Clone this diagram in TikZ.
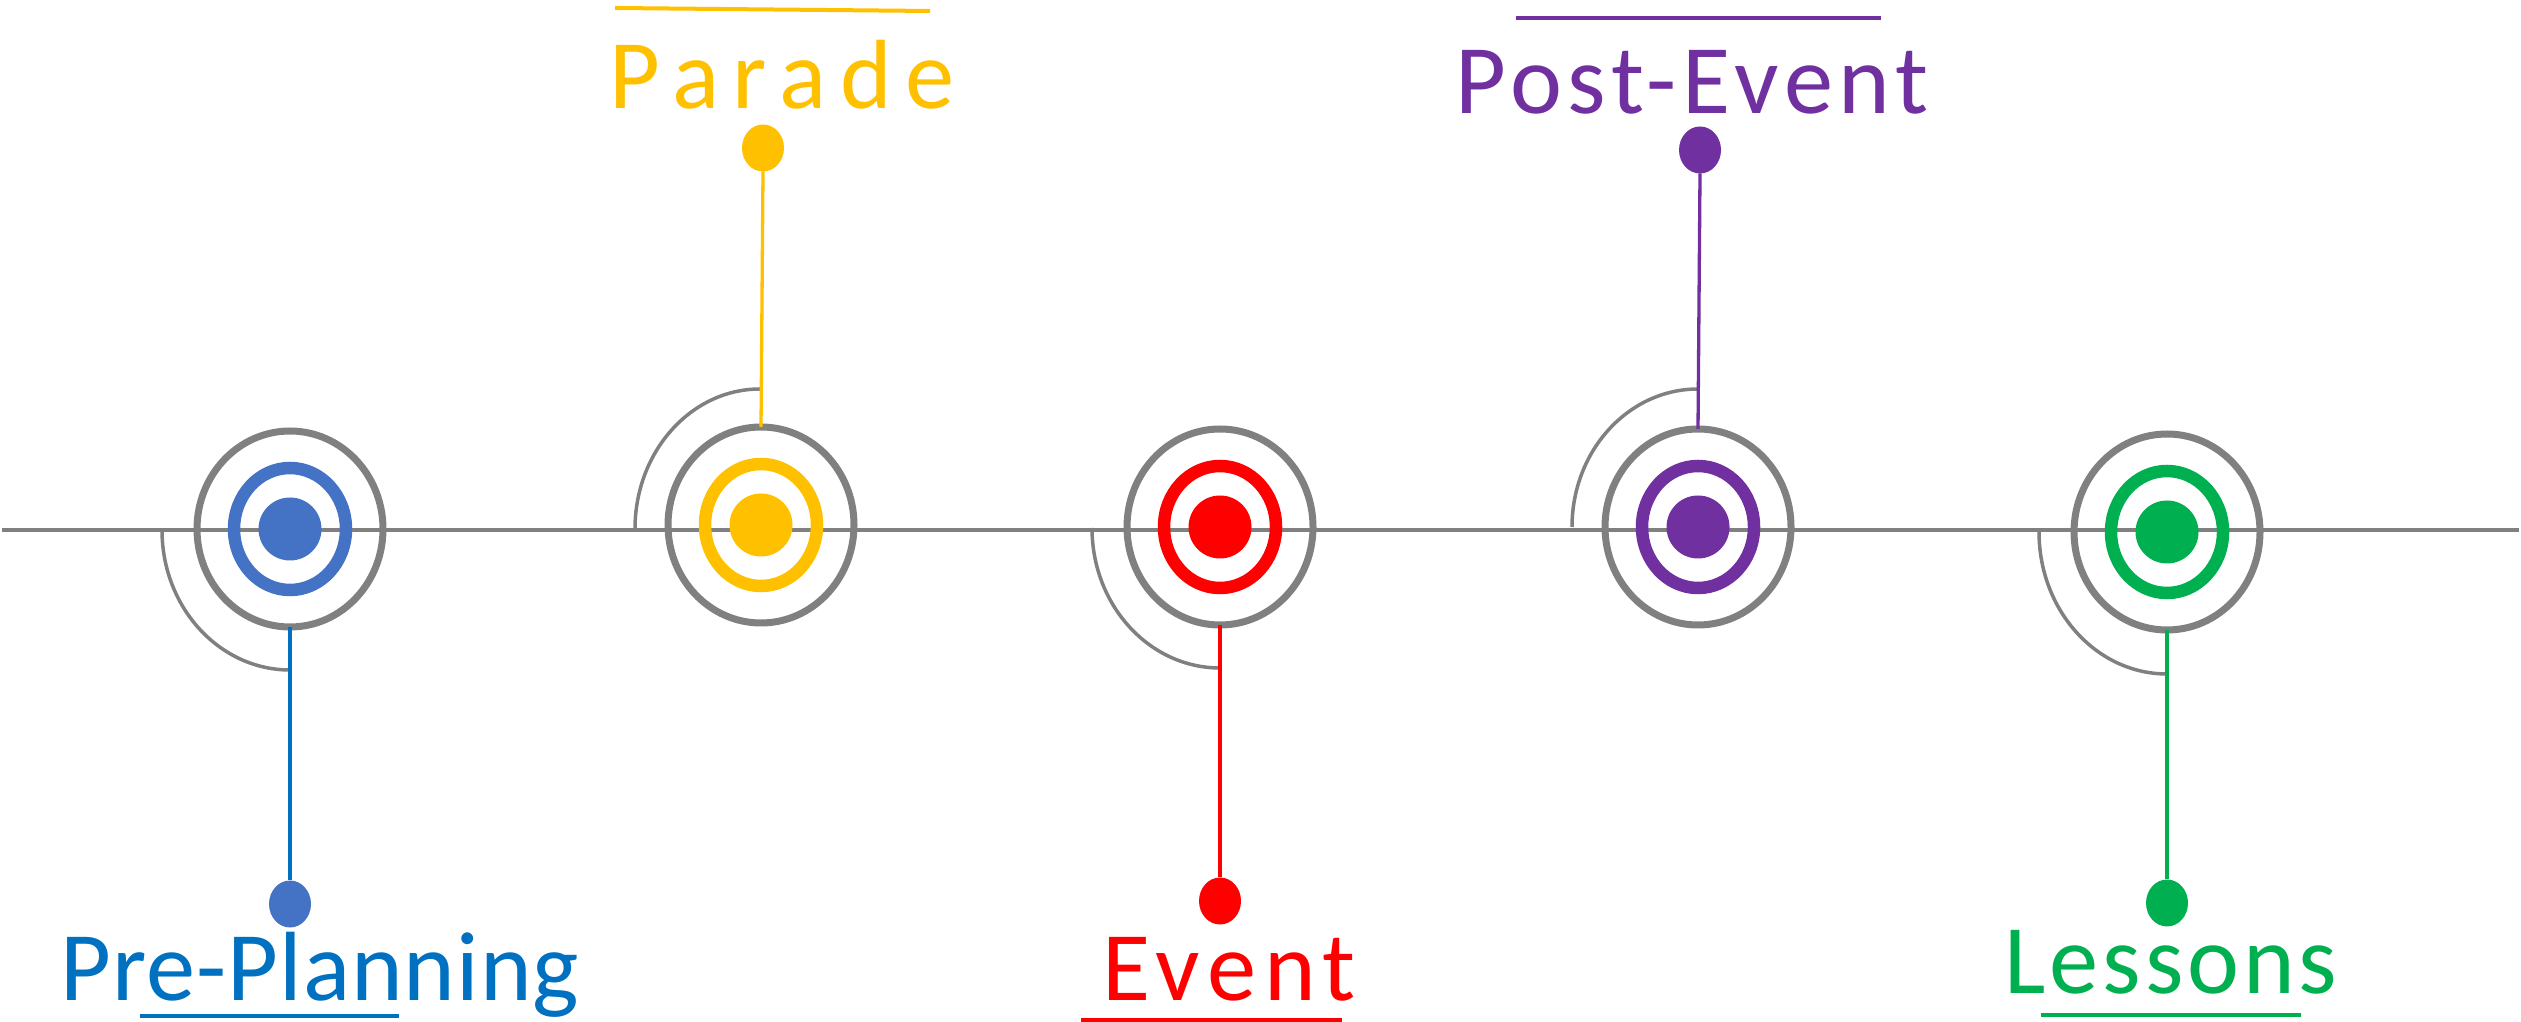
\documentclass[tikz,border=0pt]{standalone}
\usepackage{fontspec}
\setmainfont{Carlito}
\usetikzlibrary{shapes.geometric}
\definecolor{gris}{HTML}{808080}
\definecolor{bleu}{HTML}{4472C4}
\definecolor{bleufonce}{HTML}{0070C0}
\definecolor{jaune}{HTML}{FFC000}
\definecolor{rouge}{HTML}{FF0000}
\definecolor{violet}{HTML}{7030A0}
\definecolor{vert}{HTML}{00B050}
\newcommand{\espacement}[1]{\fontsize{28}{34}\selectfont\addfontfeatures{LetterSpace=#1}}

\begin{document}
\begin{tikzpicture}[x=0.1mm, y=-0.1mm]
\tikzset{grdnoeud/.style={draw=gris, ellipse, line width=0.7mm, minimum width=18.6mm, minimum height=19.6mm, inner sep=0, outer sep=0},
anneau/.style={draw=#1, ellipse, line width=1.25mm, minimum width=11.2mm, minimum height=12.2mm, inner sep=0},
pastille/.style={fill=#1, circle, minimum size=6.3mm, inner sep=0},
bulle/.style={fill=#1, ellipse, minimum width=4.2mm, minimum height=4.7mm, inner sep=0, outer sep=0},
etiq/.style={text=#1, anchor=base, inner sep=0},
arcgris/.style={draw=gris, line width=0.35mm},
tige/.style={draw=#1, line width=0.33mm},
trait/.style={draw=#1, line width=0.4mm}}
\useasboundingbox (0,0) rectangle (2521,1022);
\draw[gris, line width=0.35mm] (2,530) -- (2519,530);
% arcs
\coordinate (A1) at (162,530);
\coordinate (A2) at (635,529);
\coordinate (A3) at (1092,528);
\coordinate (A4) at (1572,527);
\coordinate (A5) at (2039,532);
\draw[arcgris] (A1) arc[start angle=180, end angle=90, x radius=128, y radius=140];
\draw[arcgris] (A2) arc[start angle=180, end angle=270, x radius=125, y radius=140];
\draw[arcgris] (A3) arc[start angle=180, end angle=90, x radius=128, y radius=140];
\draw[arcgris] (A4) arc[start angle=180, end angle=270, x radius=126, y radius=138];
\draw[arcgris] (A5) arc[start angle=180, end angle=90, x radius=128, y radius=142];
% cibles
\node[grdnoeud] (C1) at (290,529) {};
\node[grdnoeud] (C2) at (761,525) {};
\node[grdnoeud] (C3) at (1220,527) {};
\node[grdnoeud] (C4) at (1698,527) {};
\node[grdnoeud] (C5) at (2167,532) {};
\node[anneau=bleu] (R1) at (C1) {};
\node[anneau=jaune] (R2) at (C2) {};
\node[anneau=rouge] (R3) at (C3) {};
\node[anneau=violet] (R4) at (C4) {};
\node[anneau=vert] (R5) at (C5) {};
\node[pastille=bleu] (P1) at (C1) {};
\node[pastille=jaune] (P2) at (C2) {};
\node[pastille=rouge] (P3) at (C3) {};
\node[pastille=violet] (P4) at (C4) {};
\node[pastille=vert] (P5) at (C5) {};
% bulles
\node[bulle=bleu] (B1) at (290,904) {};
\node[bulle=jaune] (B2) at (763,148) {};
\node[bulle=rouge] (B3) at (1220,901) {};
\node[bulle=violet] (B4) at (1700,150) {};
\node[bulle=vert] (B5) at (2167,903) {};
\draw[tige=bleufonce] (C1.south) -- (B1.north);
\draw[tige=jaune] (C2.north) -- (B2.south);
\draw[tige=rouge] (C3.south) -- (B3.north);
\draw[tige=violet] (C4.north) -- (B4.south);
\draw[tige=vert] (C5.south) -- (B5.north);
% etiquettes
\node[etiq=bleufonce, font=\espacement{1}] (L1) at (320,1000) {Pre-Planning};
\node[etiq=jaune, font=\espacement{14}] (L2) at (782,109) {Parade};
\node[etiq=rouge, font=\espacement{8}] (L3) at (1229,1000) {Event};
\node[etiq=violet, font=\espacement{6}] (L4) at (1692,114) {Post-Event};
\node[etiq=vert, font=\espacement{4}] (L5) at (2171,993) {Lessons};
\draw[trait=bleufonce] (140,1016) -- (399,1016);
\draw[trait=jaune] (615,8) -- (930,11);
\draw[trait=rouge] (1081,1020) -- (1342,1020);
\draw[trait=violet] (1516,18) -- (1881,18);
\draw[trait=vert] (2041,1015) -- (2301,1015);
\end{tikzpicture}
\end{document}
